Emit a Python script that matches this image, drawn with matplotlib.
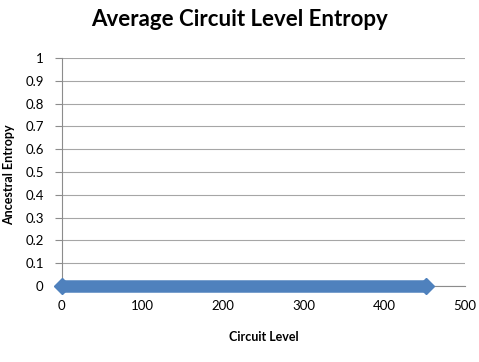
'''
average circuit level entropy chart
'''

import numpy as np
import matplotlib
matplotlib.use('Agg')
import matplotlib.pyplot as plt

plt.rcParams['font.family'] = ['Lato', 'DejaVu Sans']

# circuit levels with their ancestral entropy (all zero)
levels = np.arange(0, 453)
entropy = np.zeros(len(levels))

x_ticks = [0, 100, 200, 300, 400, 500]
y_ticks = [0, 0.1, 0.2, 0.3, 0.4, 0.5, 0.6, 0.7, 0.8, 0.9, 1]
y_labels = ['0', '0.1', '0.2', '0.3', '0.4', '0.5', '0.6', '0.7', '0.8', '0.9', '1']

fig = plt.figure(figsize=(4.79, 3.62), dpi=100)
ax = fig.add_axes([0.129, 0.21, 0.842, 0.63])

ax.plot(levels, entropy, color='#4F81BD', lw=9, marker='D', ms=8,
        markevery=[0, len(levels) - 1], solid_capstyle='butt', clip_on=False, zorder=3)

ax.set_xlim(0, 500)
ax.set_ylim(0, 1)
ax.set_xticks(x_ticks)
ax.set_yticks(y_ticks)
ax.set_yticklabels(y_labels)
ax.grid(axis='y', color='#a6a6a6', lw=0.8)
ax.set_axisbelow(True)

for s in ['top', 'right']:
    ax.spines[s].set_visible(False)
ax.spines['left'].set_color('#8c8c8c')
ax.spines['bottom'].set_color('#8c8c8c')
ax.tick_params(axis='y', length=5, color='#8c8c8c', labelsize=9.5, pad=8)
ax.tick_params(axis='x', length=0, labelsize=9.5, pad=10)

# title is centred on the whole figure, not on the axes
fig.text(0.5, 0.945, 'Average Circuit Level Entropy', fontsize=16, fontweight='bold',
         ha='center', va='center')
ax.set_xlabel('Circuit Level', fontsize=9, fontweight='bold', labelpad=14)
ax.set_ylabel('Ancestral Entropy', fontsize=9, fontweight='bold')
ax.yaxis.set_label_coords(-0.117, 0.49)

plt.savefig('out.png', dpi=100)
